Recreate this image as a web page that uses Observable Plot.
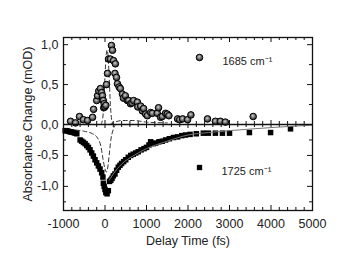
<!DOCTYPE html>
<html><head><meta charset="utf-8">
<script src="https://cdn.jsdelivr.net/npm/d3@7"></script>
<script src="https://cdn.jsdelivr.net/npm/@observablehq/plot@0.6"></script>
<style>html,body{margin:0;padding:0;background:#fff}#chart{position:absolute;left:0;top:0}</style>
</head><body><div id="chart"></div>
<script>
// 1685 cm-1 (circles)
const t1685 = [-830,-710,-615,-520,-420,-300,-275,-200,-180,-150,-110,-80,-60,-40,-30,-20,-5,20,36,60,85,130,156,180,205,240,250,277,300,340,370,420,445,490,540,570,615,650,690,780,790,860,900,930,980,1020,1100,1140,1260,1290,1340,1380,1460,1500,1540,1750,1800,1870,1990,2070,2470,2660,2780,2900,3570];
const v1685 = [0.04,0.02,0.10,0.06,0.05,0.09,0.19,0.30,0.36,0.42,0.45,0.40,0.36,0.30,0.21,0.26,0.22,0.24,0.50,0.64,0.82,0.82,0.99,0.93,0.80,0.64,0.76,0.59,0.51,0.47,0.45,0.38,0.33,0.36,0.30,0.30,0.26,0.27,0.30,0.28,0.22,0.23,0.17,0.20,0.13,0.11,0.15,0.14,0.14,0.21,0.09,0.10,0.14,0.13,0.11,0.07,0.06,0.07,0.06,0.12,0.07,0.04,0.04,0.03,0.10];
// 1725 cm-1 (squares)
const t1725 = [-960,-920,-880,-840,-800,-760,-720,-680,-600,-560,-520,-480,-440,-400,-360,-320,-280,-240,-200,-160,-120,-80,-50,-40,-20,0,20,50,80,110,140,170,200,240,280,320,360,400,450,500,560,620,680,740,800,870,940,1000,1060,1100,1160,1220,1300,1380,1460,1550,1650,1750,1850,1940,2050,2200,2370,2490,2660,2830,3000,3480,3990,4470];
const v1725 = [-0.10,-0.10,-0.11,-0.12,-0.12,-0.13,-0.14,-0.15,-0.25,-0.27,-0.29,-0.31,-0.34,-0.37,-0.41,-0.46,-0.51,-0.57,-0.62,-0.67,-0.72,-0.78,-0.85,-0.95,-1.00,-1.05,-1.10,-1.12,-1.07,-0.92,-0.90,-0.87,-0.83,-0.80,-0.74,-0.69,-0.66,-0.63,-0.60,-0.57,-0.53,-0.50,-0.48,-0.46,-0.44,-0.41,-0.39,-0.37,-0.33,-0.28,-0.31,-0.30,-0.28,-0.27,-0.25,-0.23,-0.21,-0.20,-0.18,-0.17,-0.16,-0.15,-0.14,-0.14,-0.14,-0.14,-0.14,-0.13,-0.13,-0.07];
// fit of 1725 decay (solid)
const tFit = [100,200,400,700,1000,1500,2000,2500,3000,4000,5000];
const vFit = [-0.90,-0.80,-0.64,-0.50,-0.39,-0.27,-0.17,-0.13,-0.10,-0.05,-0.01];
// dashed components, top panel
const tIrfTop = [-100,-60,-30,0,30,50,70,100,130,160,200];
const vIrfTop = [0.0,0.06,0.25,0.60,0.88,0.93,0.88,0.60,0.25,0.06,0.0];
const tCompTop = [120,200,400,700,1000,1500];
const vCompTop = [0.0,0.02,0.05,0.05,0.03,0.02];
// dashed component, bottom panel
const tIrfBot = [-700,-500,-300,-200,-100,-50,0,30,60,100,140,180,220,260];
const vIrfBot = [-0.09,-0.11,-0.15,-0.20,-0.35,-0.55,-0.72,-0.77,-0.72,-0.50,-0.25,-0.12,-0.04,0.0];

const xTicks = [-1000,0,1000,2000,3000,4000,5000];
const xMinor = [-800,-600,-400,-200,200,400,600,800,1200,1400,1600,1800,2200,2400,2600,2800,3200,3400,3600,3800,4200,4400,4600,4800];
const yTicks = [-1,-0.5,0,0.5,1];
const yTickLabels = ["-1,0","-0,5","0,0","0,5","1,0"];
const yMinor = [-1.25,-0.75,-0.25,0.25,0.75];
const labels = ["1685 cm\u207B\u00B9","1725 cm\u207B\u00B9"];

const pts = (t, v) => t.map((d, i) => ({t: d, v: v[i]}));
const W = 348, H = 266, mL = 63, mR = 36, mT = 37, mB = 56;
const fw = W - mL - mR, fh = H - mT - mB;
const ink = "#111";

const plot = Plot.plot({
  width: W, height: H,
  marginLeft: mL, marginRight: mR, marginTop: mT, marginBottom: mB,
  style: {fontFamily: "'Liberation Sans', Arial, sans-serif", fontSize: "12px", color: "#222", background: "#fff"},
  x: {type: "linear", domain: [-1000, 5000]},
  y: {type: "linear", domain: [-1.39, 0, 1.09], range: [210, 124, 37]},
  marks: [
    Plot.axisX({anchor: "bottom", ticks: xTicks, tickSize: 0, tickPadding: 9, tickFormat: d => String(d),
      label: "Delay Time (fs)", labelAnchor: "center", labelArrow: "none", labelOffset: 34, fontSize: 12.5}),
    Plot.axisY({anchor: "left", ticks: yTicks, tickSize: 0, tickPadding: 5, tickFormat: d => yTickLabels[yTicks.indexOf(d)],
      label: "Absorbance Change (mOD)", labelAnchor: "center", labelArrow: "none", labelOffset: 40, fontSize: 12.5}),
    // inward ticks, bottom & top
    Plot.ruleX(xTicks, {insetTop: fh - 5, stroke: ink}),
    Plot.ruleX(xMinor, {insetTop: fh - 3, stroke: ink}),
    Plot.ruleX(xTicks, {insetBottom: fh - 5, stroke: ink}),
    Plot.ruleX(xMinor, {insetBottom: fh - 3, stroke: ink}),
    // ticks across the zero line
    Plot.ruleX(xTicks, {y1: 0, y2: 0, insetTop: -4, insetBottom: -4, stroke: ink}),
    Plot.ruleX(xMinor, {y1: 0, y2: 0, insetTop: -3, insetBottom: -3, stroke: ink}),
    // left & right ticks
    Plot.ruleY(yTicks, {insetRight: fw - 5, stroke: ink}),
    Plot.ruleY(yMinor, {insetRight: fw - 3, stroke: ink}),
    Plot.ruleY(yTicks, {insetLeft: fw - 5, stroke: ink}),
    Plot.ruleY(yMinor, {insetLeft: fw - 3, stroke: ink}),
    // dashed components
    Plot.line(pts(tIrfTop, vIrfTop), {x: "t", y: "v", stroke: "#333", strokeWidth: 1, strokeDasharray: "4,3", curve: "monotone-x"}),
    Plot.line(pts(tCompTop, vCompTop), {x: "t", y: "v", stroke: "#333", strokeWidth: 1, strokeDasharray: "4,3", curve: "monotone-x"}),
    Plot.line(pts(tIrfBot, vIrfBot), {x: "t", y: "v", stroke: "#333", strokeWidth: 1, strokeDasharray: "4,3", curve: "monotone-x"}),
    // data
    Plot.dot(pts(t1725, v1725), {x: "t", y: "v", symbol: "square", r: 3.1, fill: "#000", stroke: "none"}),
    Plot.line(pts(tFit, vFit), {x: "t", y: "v", stroke: "#777", strokeWidth: 1, curve: "monotone-x"}),
    Plot.dot(pts(t1685, v1685), {x: "t", y: "v", r: 3.3, fill: "url(#sph)", stroke: "#000", strokeWidth: 1}),
    // frame + zero line
    Plot.frame({stroke: ink, strokeWidth: 1.3}),
    Plot.ruleY([0], {stroke: ink, strokeWidth: 1.3}),
    // legends
    Plot.dot([labels[0]], {frameAnchor: "top-left", dx: 136, dy: 20, r: 3.3, fill: "url(#sph)", stroke: "#000", strokeWidth: 1}),
    Plot.text([labels[0]], {text: d => d, frameAnchor: "top-left", dx: 159, dy: 20, textAnchor: "start", fontSize: 11, fill: "#222"}),
    Plot.dot([labels[1]], {frameAnchor: "top-left", dx: 136, dy: 130, symbol: "square", r: 3, fill: "#000"}),
    Plot.text([labels[1]], {text: d => d, frameAnchor: "top-left", dx: 158, dy: 130, textAnchor: "start", fontSize: 11, fill: "#222"})
  ]
});

const svg = d3.select(plot);
const defs = svg.insert("defs", ":first-child");
const g = defs.append("radialGradient").attr("id", "sph").attr("cx", "45%").attr("cy", "40%").attr("r", "60%");
g.append("stop").attr("offset", "0%").attr("stop-color", "#d0d0d0");
g.append("stop").attr("offset", "45%").attr("stop-color", "#777");
g.append("stop").attr("offset", "100%").attr("stop-color", "#222");
document.getElementById("chart").appendChild(plot);
</script>
</body></html>
